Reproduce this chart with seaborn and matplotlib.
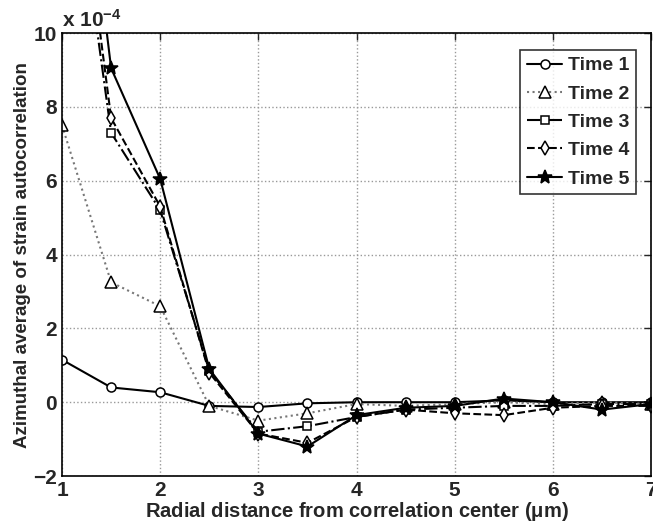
import matplotlib
matplotlib.use("Agg")
import matplotlib.pyplot as plt
import seaborn as sns
import pandas as pd

x = [1, 1.5, 2, 2.5, 3, 3.5, 4, 4.5, 5, 5.5, 6, 6.5, 7]
time1 = [1.15, 0.40, 0.27, -0.10, -0.13, -0.03, 0.00, 0.00, 0.00, 0.05, 0.00, 0.00, 0.00]
time2 = [7.5, 3.25, 2.6, -0.10, -0.50, -0.30, -0.05, -0.10, -0.05, 0.00, -0.05, 0.00, -0.05]
time3 = [17.0, 7.3, 5.2, 0.85, -0.80, -0.65, -0.40, -0.20, -0.15, -0.10, -0.10, -0.05, -0.05]
time4 = [18.0, 7.7, 5.3, 0.80, -0.85, -1.10, -0.40, -0.20, -0.30, -0.35, -0.15, -0.10, -0.10]
time5 = [20.0, 9.05, 6.05, 0.90, -0.85, -1.20, -0.35, -0.15, -0.10, 0.10, 0.00, -0.20, -0.05]
labels = ["Time 1", "Time 2", "Time 3", "Time 4", "Time 5"]
series = [time1, time2, time3, time4, time5]

sns.set_style("white")
plt.rcParams['font.family'] = ['Liberation Sans', 'DejaVu Sans']
plt.rcParams['font.weight'] = 'bold'
plt.rcParams['mathtext.default'] = 'regular'

fig = plt.figure(figsize=(6.53, 5.26), dpi=100)
ax = fig.add_axes([0.095, 0.095, 0.902, 0.842])

styles = [
    dict(marker='o', linestyle='-', color='black', ms=6.5, mfc='white'),
    dict(marker='^', linestyle=':', color='#777777', ms=8, mfc='white'),
    dict(marker='s', linestyle='-.', color='black', ms=6, mfc='white'),
    dict(marker='d', linestyle='--', color='black', ms=7, mfc='white'),
    dict(marker='*', linestyle='-', color='black', ms=10, mfc='black'),
]

for lab, ys, st in zip(labels, series, styles):
    df = pd.DataFrame({"x": x, "y": ys})
    sns.lineplot(data=df, x="x", y="y", ax=ax, label=lab,
                 color=st['color'], linestyle=st['linestyle'], linewidth=1.5,
                 marker=st['marker'], markersize=st['ms'],
                 markerfacecolor=st['mfc'], markeredgecolor='black',
                 markeredgewidth=1.1)

ax.set_xlim(1, 7)
ax.set_ylim(-2, 10)
ax.set_xticks([1, 2, 3, 4, 5, 6, 7])
ax.set_yticks([-2, 0, 2, 4, 6, 8, 10])
ax.grid(True, linestyle=':', color='#999999', linewidth=1)
ax.tick_params(direction='in', length=5, labelsize=15, width=1, top=True, right=True)
for lbl in ax.get_xticklabels() + ax.get_yticklabels():
    lbl.set_fontweight('bold')
for sp in ax.spines.values():
    sp.set_color('black')
    sp.set_linewidth(1.2)

ax.set_xlabel(r"Radial distance from correlation center ($\mu$m)", fontsize=14.5, fontweight='bold', labelpad=0)
ax.set_ylabel("Azimuthal average of strain autocorrelation", fontsize=13.5, fontweight='bold', labelpad=2)
ax.text(0.0, 1.005, r"x 10$^{-4}$", transform=ax.transAxes, fontsize=15, fontweight='bold',
        ha='left', va='bottom')

leg = ax.legend(loc='upper right', bbox_to_anchor=(0.975, 0.962), borderaxespad=0,
                fontsize=14, frameon=True,
                fancybox=False, edgecolor='black', handlelength=1.8, handletextpad=0.3,
                borderpad=0.35, labelspacing=0.55)
leg.get_frame().set_linewidth(1.2)
for t in leg.get_texts():
    t.set_fontweight('bold')

fig.savefig("out.png", dpi=100)
